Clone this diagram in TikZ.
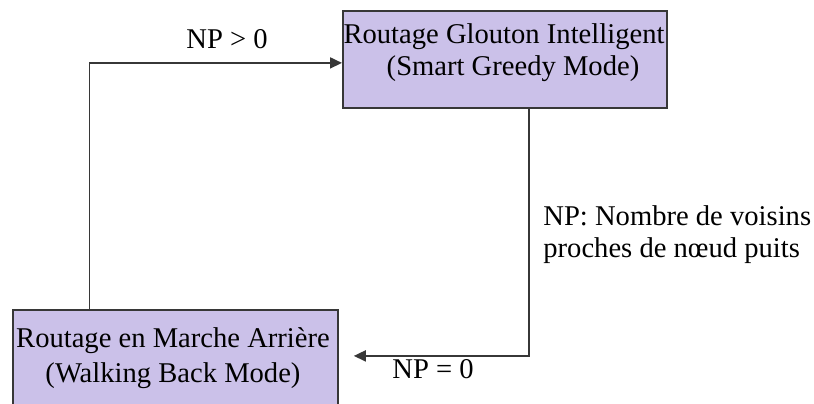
\documentclass[tikz,border=0pt]{standalone}
\usepackage{fontspec}
\setmainfont{Liberation Serif}
\usetikzlibrary{arrows.meta,positioning}
\definecolor{boxfill}{RGB}{203,193,233}
\definecolor{linegray}{RGB}{55,55,55}

\begin{document}
\begin{tikzpicture}[
        x=0.5pt, y=-0.5pt,
        font=\fontsize{14.3}{16}\selectfont,
        box/.style={draw=linegray, line width=0.9pt, fill=boxfill, minimum height=48.5pt, inner sep=0pt, anchor=north west},
        txt/.style={align=center, inner sep=0pt, anchor=north},
        arr/.style={-{Triangle[length=6pt, width=5.5pt]}, draw=linegray, line width=0.9pt}
    ]
        \clip (0,0) rectangle (814,403);
        \node[box, minimum width=162pt] (smart) at (342,10) {};
        \node[txt] (smarttxt) at (504,23.5) {Routage Glouton Intelligent\\ \hspace*{9pt}(Smart Greedy Mode)};
        \node[box, minimum width=162.5pt] (back) at (12,309) {};
        \node[txt] (backtxt) at (173,327.5) {Routage en Marche Arrière\\[1.5pt] (Walking Back Mode)};
        \node[anchor=base] (gt) at (227,48) {NP > 0};
        \node[anchor=base] (eq) at (433,378) {NP = 0};
        \node[anchor=north west, align=left, inner sep=0pt] (np) at (543,205.5) {NP: Nombre de voisins\\ proches de nœud puits};
        \draw[arr] ([xshift=-43pt]back.north) |- ([yshift=-1.75pt]smart.west);
        \draw[arr] ([xshift=12pt]smart.south) |- ([xshift=7.5pt, yshift=1.25pt]back.east);
    \end{tikzpicture}
\end{document}
